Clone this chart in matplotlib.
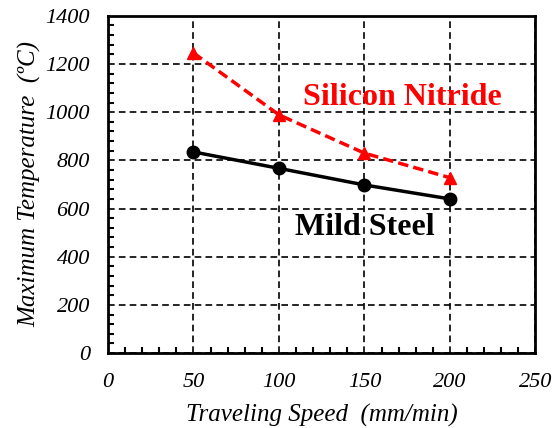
import matplotlib
matplotlib.use("Agg")
import matplotlib.pyplot as plt
from matplotlib.ticker import MultipleLocator

speed = [50, 100, 150, 200]
temp_si3n4 = [1246, 989, 830, 728]
temp_steel = [835, 767, 698, 640]

plt.rcParams['font.family'] = 'Liberation Serif'

fig = plt.figure(figsize=(5.58, 4.28), dpi=100)
ax = fig.add_axes([0.1935, 0.175, 0.766, 0.788])

ax.plot(speed, temp_si3n4, color='red', linestyle='--', linewidth=2.5,
        dashes=(3, 1.5), marker='^', markersize=9, zorder=3)
ax.plot(speed, temp_steel, color='black', linestyle='-', linewidth=2.5,
        marker='o', markersize=9, zorder=3)

ax.set_xlim(0, 250)
ax.set_ylim(0, 1400)
ax.xaxis.set_major_locator(MultipleLocator(50))
ax.xaxis.set_minor_locator(MultipleLocator(10))
ax.yaxis.set_major_locator(MultipleLocator(200))
ax.yaxis.set_minor_locator(MultipleLocator(40))
ax.tick_params(which='both', direction='in', width=1.5, labelsize=16)
ax.tick_params(which='major', length=0)
ax.tick_params(axis='x', which='major', pad=14)
ax.tick_params(axis='y', which='major', pad=13)
ax.tick_params(which='minor', length=4)
for lab in ax.get_xticklabels() + ax.get_yticklabels():
    lab.set_fontstyle('italic')

ax.grid(True, which='major', color='black', linestyle='--', linewidth=1.2, dashes=(4, 2.5))
for sp in ax.spines.values():
    sp.set_linewidth(2)

ax.set_xlabel('Traveling Speed  (mm/min)', fontsize=18, fontstyle='italic', labelpad=9)
ax.set_ylabel('Maximum Temperature  (\u00baC)', fontsize=18, fontstyle='italic', labelpad=3)

ax.text(172, 1062, 'Silicon Nitride', color='red', fontsize=23, fontweight='bold',
        ha='center', va='center')
ax.text(150, 522, 'Mild Steel', color='black', fontsize=23, fontweight='bold',
        ha='center', va='center')

fig.savefig('out.png', dpi=100)
